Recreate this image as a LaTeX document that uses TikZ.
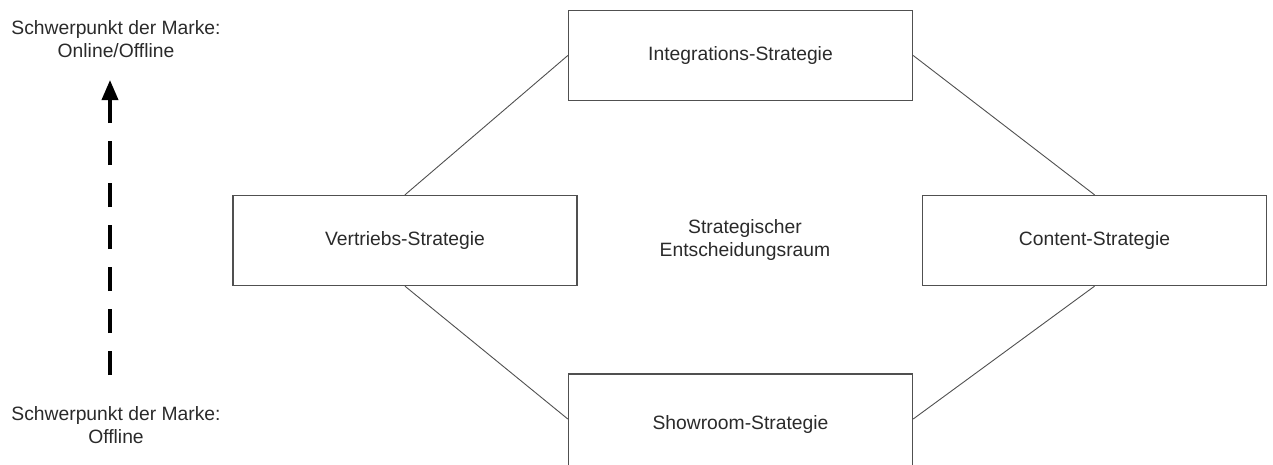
\documentclass[tikz,border=0pt]{standalone}
\usepackage{fontspec}
\setmainfont{Liberation Sans}
\usetikzlibrary{arrows.meta}
\definecolor{edgegray}{HTML}{505050}
\definecolor{textgray}{HTML}{2A2A2A}
\begin{document}
\begin{tikzpicture}[x=1pt,y=-1pt,
  every node/.style={font=\fontsize{19.3}{22.5}\selectfont, text=textgray},
  stratbox/.style={draw=edgegray, line width=1.4pt, rectangle,
    minimum width=344pt, minimum height=90pt, inner sep=0pt},
  link/.style={draw=edgegray, line width=0.9pt},
  label/.style={align=center, inner sep=0pt}]
  \useasboundingbox (0,0) rectangle (1273,464);

  % the four strategy boxes (the lower one runs past the bottom edge)
  \node[stratbox] (integ) at (740.5,55.5) {Integrations-Strategie};
  \node[stratbox] (vert)  at (405,240.5)  {Vertriebs-Strategie};
  \node[stratbox] (cont)  at (1094.5,240.5) {Content-Strategie};
  \node[stratbox, minimum height=96pt, text depth=0pt, yshift=-1pt]
    (show) at (740.5,421) {Showroom-Strategie};

  % decision space in the middle
  \node[label] (mid) at (745,240) {Strategischer\\Entscheidungsraum};

  % diamond of connectors
  \draw[link] (integ.west) -- (vert.north);
  \draw[link] (integ.east) -- (cont.north);
  \draw[link] (vert.south) -- ([yshift=3pt]show.west);
  \draw[link] (cont.south) -- ([yshift=3pt]show.east);

  % brand focus axis
  \node[label] (top) at (116,39) {Schwerpunkt der Marke:\\Online/Offline};
  \node[label] (bot) at (116,425) {Schwerpunkt der Marke:\\Offline};
  \coordinate (axfrom) at (110,375);
  \coordinate (axto) at (110,80);
  \draw[line width=3.6pt, black, dash pattern=on 24pt off 18pt,
        -{Triangle[length=20pt,width=16pt]}] (axfrom) -- (axto);
\end{tikzpicture}
\end{document}
